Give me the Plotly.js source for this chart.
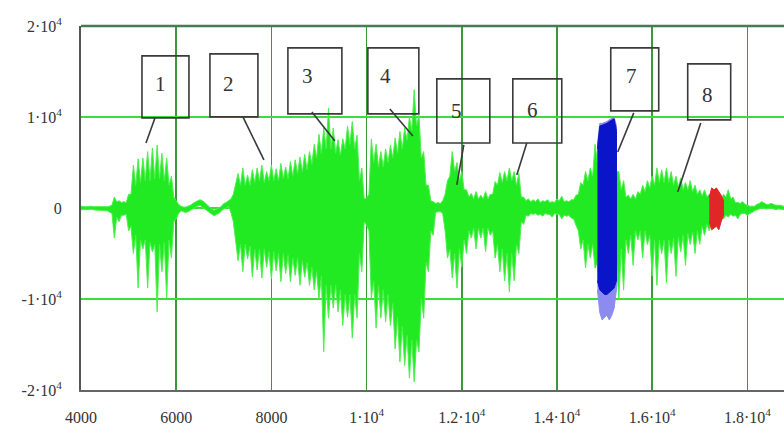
<!DOCTYPE html>
<html>
<head>
<meta charset="utf-8">
<script src="https://cdn.plot.ly/plotly-3.0.1.min.js"></script>
<style>html,body{margin:0;padding:0;background:#fff;}#chart{width:784px;height:437px;}</style>
</head>
<body>
<div id="chart"></div>
<script>
// Peak samples of the speech waveform (time index) with upper / lower extremes
const sampleX = [4000,4100,4200,4300,4400,4500,4600,4700,4800,4900,
5000,5100,5200,5300,5400,5500,5600,5700,5800,5900,
6000,6100,6200,6300,6400,6500,6600,6700,6800,6900,
7000,7100,7200,7300,7400,7500,7600,7700,7800,7900,
8000,8100,8200,8300,8400,8500,8600,8700,8800,8900,
9000,9100,9200,9300,9400,9500,9600,9700,9800,9900,
10000,10100,10200,10300,10400,10500,10600,10700,10800,10900,
11000,11100,11200,11300,11400,11500,11600,11700,11800,11900,
12000,12100,12200,12300,12400,12500,12600,12700,12800,12900,
13000,13100,13200,13300,13400,13500,13600,13700,13800,13900,
14000,14100,14200,14300,14400,14500,14600,14700,14800,14900,
15000,15100,15200,15300,15400,15500,15600,15700,15800,15900,
16000,16100,16200,16300,16400,16500,16600,16700,16800,16900,
17000,17100,17200,17300,17400,17500,17600,17700,17800,17900,
18000,18100,18200,18300,18400,18500,18600,18700,18800];
const upperEnv = [200,150,200,150,100,150,200,1200,800,700,
1500,4700,5400,5500,6200,6600,6900,6000,5500,3500,
800,200,100,300,700,900,600,100,-250,0,
500,800,1500,3800,4400,3600,4200,4400,4700,4000,
4700,4300,4900,4500,5100,5300,5600,5900,6200,7000,
8100,8800,11000,8800,7500,7600,9000,9500,8000,4400,
1100,7600,7000,6200,6500,6900,7700,8400,8800,10000,
13000,10200,6200,2500,700,600,800,3000,6200,5000,
4000,2000,1600,1800,1400,1800,1500,2900,3900,4000,
4400,4000,3800,1200,1000,900,1000,800,900,700,
1000,1300,800,900,1400,2800,4000,4400,7000,9000,
9000,9000,9000,4000,3000,1400,1500,1800,2500,3000,
3500,4400,4200,4400,4000,3500,3300,2800,3000,2500,
2000,2000,1500,1500,1500,1500,2000,1200,600,700,
300,200,400,700,400,500,300,300,200];
const lowerEnv = [-200,-200,-150,-250,-250,-300,-400,-3300,-1500,-800,
-2500,-5000,-8800,-4500,-8800,-4800,-11400,-7000,-9900,-5500,
-1200,-300,-500,-300,100,300,0,-500,-850,-600,
-100,200,-1500,-5800,-7000,-5600,-7600,-6800,-7700,-6500,
-7800,-6900,-8100,-7200,-8100,-7400,-8500,-7600,-8500,-9000,
-10000,-15800,-12100,-11000,-11400,-12900,-12000,-14300,-12100,-7000,
-1900,-9900,-13200,-12100,-12500,-12900,-15500,-16900,-17300,-18700,
-19100,-15800,-12100,-7000,-3000,-400,-600,-5500,-7700,-8800,
-6500,-5000,-3300,-4500,-3300,-4800,-3000,-5500,-7000,-8000,
-9200,-8000,-5000,-1800,-900,-700,-800,-900,-700,-1000,
-700,-1200,-900,-1100,-1900,-4500,-6600,-5500,-6600,-11000,
-11000,-11000,-11000,-10000,-9000,-5000,-6300,-3500,-5500,-4000,
-7500,-8500,-5000,-8200,-5000,-7500,-4800,-6300,-4000,-5000,
-4000,-3000,-2500,-2000,-2000,-1200,-1000,-900,-1200,-600,
-800,-500,-200,0,-100,0,-200,-100,-200];

// Dense core of the waveform between the peaks
const midX = [4050,4150,4250,4350,4450,4550,4650,4750,4850,4950,
5050,5150,5250,5350,5450,5550,5650,5750,5850,5950,
6050,6150,6250,6350,6450,6550,6650,6750,6850,6950,
7050,7150,7250,7350,7450,7550,7650,7750,7850,7950,
8050,8150,8250,8350,8450,8550,8650,8750,8850,8950,
9050,9150,9250,9350,9450,9550,9650,9750,9850,9950,
10050,10150,10250,10350,10450,10550,10650,10750,10850,10950,
11050,11150,11250,11350,11450,11550,11650,11750,11850,11950,
12050,12150,12250,12350,12450,12550,12650,12750,12850,12950,
13050,13150,13250,13350,13450,13550,13650,13750,13850,13950,
14050,14150,14250,14350,14450,14550,14650,14750,14850,14950,
15050,15150,15250,15350,15450,15550,15650,15750,15850,15950,
16050,16150,16250,16350,16450,16550,16650,16750,16850,16950,
17050,17150,17250,17350,17450,17550,17650,17750,17850,17950,
18050,18150,18250,18350,18450,18550,18650,18750];
const coreUpper = [150,150,150,100,100,150,300,700,600,600,
1500,2500,2800,3000,3000,3200,3200,3000,2500,1200,
400,100,200,500,800,800,300,-100,-100,200,
600,1000,2500,2500,2500,2500,2800,3000,2800,3000,
3000,3000,3200,3200,3500,3800,4000,4200,4800,5500,
6000,6500,6500,6000,5800,6500,7000,6500,3000,1000,
1500,5000,4500,4500,5000,5500,6000,6500,7500,8500,
9000,5500,2500,800,500,500,1500,3500,4000,3000,
2000,1200,1000,1000,1000,1000,1500,2500,2800,3000,
3000,2500,1200,800,700,700,600,700,600,600,
800,700,700,900,1500,2500,3000,3500,5000,7000,
7000,7000,4000,2000,1200,1000,1000,1500,1800,2200,
2500,2800,2800,2800,2500,2300,2000,2000,1800,1500,
1300,1200,1000,1000,1000,1200,1000,600,500,400,
200,200,500,500,400,400,300,200];
const coreLower = [-200,-150,-200,-250,-250,-300,-600,-1000,-800,-700,
-2000,-3000,-3500,-3500,-3800,-4000,-4000,-3800,-3500,-1500,
-600,-400,-400,-100,200,100,-200,-700,-700,-300,
0,-500,-3500,-4000,-4000,-4200,-4500,-4500,-4500,-4800,
-4800,-5000,-5000,-5200,-5500,-5500,-5800,-6000,-6500,-7000,
-7500,-8500,-8500,-8500,-9000,-9500,-9500,-9500,-5000,-1500,
-2500,-8000,-8500,-9000,-9500,-10500,-12000,-13000,-14000,-14500,
-14500,-10000,-6000,-2500,-500,-400,-2500,-4500,-5000,-4500,
-3500,-2500,-2200,-2200,-2200,-2200,-2500,-4000,-4500,-5000,
-5000,-4000,-1500,-800,-600,-600,-700,-600,-700,-600,
-700,-800,-800,-1200,-2500,-3500,-4000,-4000,-6000,-8000,
-8000,-8000,-6000,-4500,-3500,-3000,-2500,-2500,-2500,-3000,
-3500,-3500,-3500,-3500,-3300,-3200,-3000,-2800,-2600,-2500,
-2000,-1800,-1500,-1500,-1000,-800,-700,-800,-700,-600,
-600,-300,-100,-50,-50,-100,-100,-150];

// Highlighted segment (blue)
const blueX = [14850,14900,14950,15000,15050,15100,15150,15200,15250];
const blueOuterTop = [7000,9300,9300,9400,9500,9700,9900,10000,9000];
const blueOuterBot = [-9000,-11500,-12300,-12000,-11800,-12300,-11800,-11000,-9000];
const blueCoreTop = [6500,9000,9100,9200,9300,9500,9700,9800,8500];
const blueCoreBot = [-8000,-9000,-9300,-9500,-9500,-9300,-9000,-8800,-8000];

// Highlighted segment (red)
const redX = [17200,17250,17300,17350,17400,17450,17500];
const redTop = [1200,2200,2000,2200,1800,1400,800];
const redBot = [-1500,-2400,-2200,-2000,-2400,-1500,-800];

// Tick values and labels
const xTickVals = [4000,6000,8000,10000,12000,14000,16000,18000];
const xTickText = ['4000','6000','8000','1·10<sup>4</sup>','1.2·10<sup>4</sup>','1.4·10<sup>4</sup>','1.6·10<sup>4</sup>','1.8·10<sup>4</sup>'];
const yTickVals = [-20000,-10000,0,10000,20000];
const yTickText = ['-2·10<sup>4</sup>','-1·10<sup>4</sup>','0','1·10<sup>4</sup>','2·10<sup>4</sup>'];

// Callout boxes (data coordinates)
const calloutLabels = ['1','2','3','4','5','6','7','8'];
const boxX0 = [5281,6709,8347,10027,11476,13072,15130,16747];
const boxX1 = [6268,7717,9481,11098,12589,14101,16138,17650];
const boxY0 = [9900,10010,10340,10340,7150,7150,10670,9680];
const boxY1 = [16720,16940,17600,17600,14190,14190,17600,15840];
const labelX = [5680,7108,8767,10405,11896,13492,15571,17167];
const labelY = [13640,13640,14520,14520,10670,10780,14520,12430];
const leadFromX = [5554,7402,8851,10489,12043,13366,15613,17020];
const leadFromY = [9900,10010,10560,10890,6930,7150,10450,9350];
const leadToX = [5365,7843,9334,10972,11896,13156,15277,16537];
const leadToY = [7150,5280,7370,7920,2530,3630,6160,1760];

// Build the waveform outline: peak, core, peak, core ... along top, then back along bottom
function waveOutline(){
  const ux = [], uy = [], lx = [], ly = [];
  for (let i = 0; i < sampleX.length; i++) {
    ux.push(sampleX[i]); uy.push(upperEnv[i]);
    lx.push(sampleX[i]); ly.push(lowerEnv[i]);
    if (i < midX.length) {
      ux.push(midX[i]); uy.push(coreUpper[i]);
      lx.push(midX[i]); ly.push(coreLower[i]);
    }
  }
  return {x: ux.concat(lx.reverse()), y: uy.concat(ly.reverse())};
}
function band(xs, top, bot){
  return {x: xs.concat(xs.slice().reverse()), y: top.concat(bot.slice().reverse())};
}

const g = waveOutline();
const bo = band(blueX, blueOuterTop, blueOuterBot);
const bc = band(blueX, blueCoreTop, blueCoreBot);
const r = band(redX, redTop, redBot);

const traces = [
  {x: g.x, y: g.y, type: 'scatter', mode: 'lines', fill: 'toself',
   fillcolor: '#22ea22', line: {color: '#4cf04c', width: 1}, hoverinfo: 'skip'},
  {x: bo.x, y: bo.y, type: 'scatter', mode: 'lines', fill: 'toself',
   fillcolor: '#8c8cf0', line: {color: '#8c8cf0', width: 1}, hoverinfo: 'skip'},
  {x: bc.x, y: bc.y, type: 'scatter', mode: 'lines', fill: 'toself',
   fillcolor: '#0a14c8', line: {color: '#0a14c8', width: 1}, hoverinfo: 'skip'},
  {x: r.x, y: r.y, type: 'scatter', mode: 'lines', fill: 'toself',
   fillcolor: '#e02626', line: {color: '#e02626', width: 1}, hoverinfo: 'skip'}
];

const shapes = [];
const annotations = [];
for (let i = 0; i < calloutLabels.length; i++) {
  shapes.push({type: 'rect', xref: 'x', yref: 'y', x0: boxX0[i], x1: boxX1[i], y0: boxY0[i], y1: boxY1[i],
    line: {color: '#3a3a3a', width: 1.6}, fillcolor: 'rgba(0,0,0,0)'});
  shapes.push({type: 'line', xref: 'x', yref: 'y', x0: leadFromX[i], y0: leadFromY[i], x1: leadToX[i], y1: leadToY[i],
    line: {color: '#3a3a3a', width: 1.6}});
  annotations.push({x: labelX[i], y: labelY[i], xref: 'x', yref: 'y', text: calloutLabels[i], showarrow: false,
    font: {family: 'Liberation Serif, serif', size: 21, color: '#333'}});
}
// top frame line
shapes.push({type: 'line', xref: 'paper', yref: 'paper', x0: 0, x1: 1, y0: 1, y1: 1,
  line: {color: '#4a7a55', width: 2.5}});

const layout = {
  width: 784, height: 437,
  margin: {l: 81, r: 0, t: 26, b: 47},
  paper_bgcolor: '#ffffff', plot_bgcolor: '#ffffff',
  showlegend: false,
  font: {family: 'Liberation Serif, serif', size: 16, color: '#333'},
  xaxis: {range: [4000, 18770], tickvals: xTickVals, ticktext: xTickText,
    showgrid: true, gridcolor: '#3a9a3a', gridwidth: 1.5,
    showline: true, linecolor: '#666', linewidth: 2, ticks: '', zeroline: false,
    ticklabelstandoff: 12, tickfont: {family: 'Liberation Serif, serif', size: 16, color: '#333'}},
  yaxis: {range: [-20000, 20000], tickvals: yTickVals, ticktext: yTickText,
    showgrid: true, gridcolor: '#3ddc3d', gridwidth: 2,
    showline: true, linecolor: '#555', linewidth: 2, ticks: '', zeroline: false,
    ticklabelstandoff: 14, tickfont: {family: 'Liberation Serif, serif', size: 16, color: '#333'}},
  shapes: shapes,
  annotations: annotations
};

Plotly.newPlot('chart', traces, layout, {staticPlot: true, displayModeBar: false});
</script>
</body>
</html>
